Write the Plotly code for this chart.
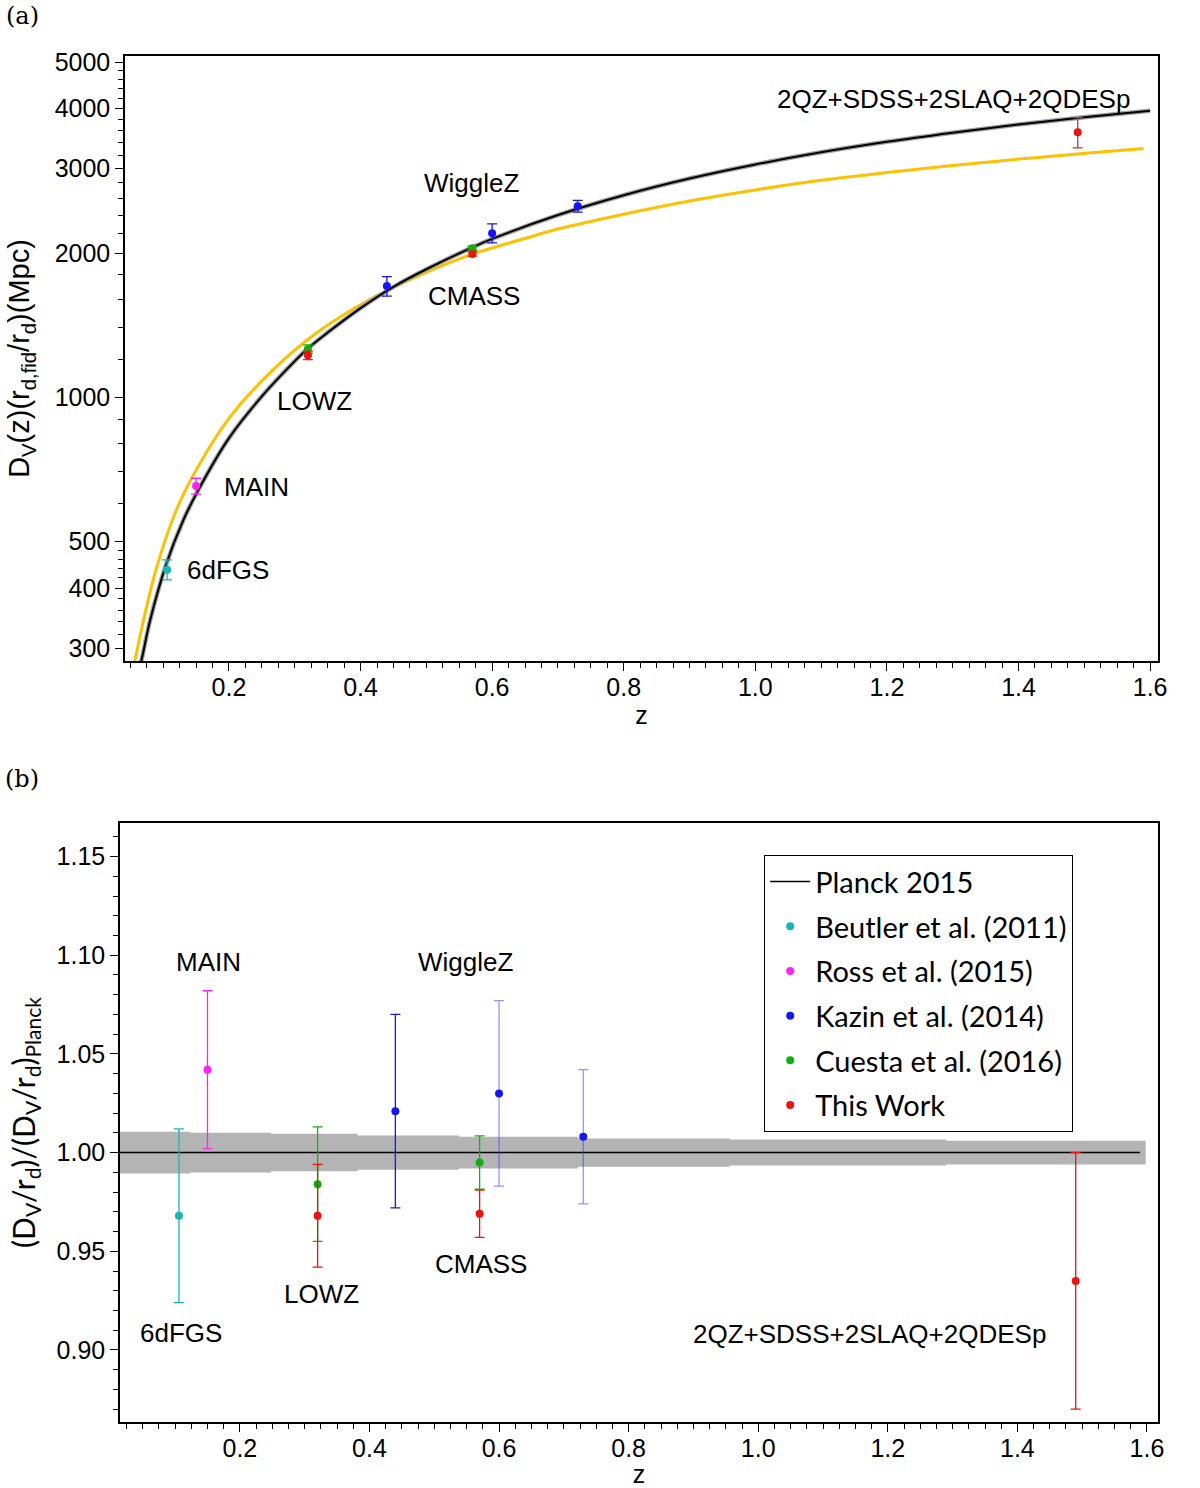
import plotly.graph_objects as go

# ---- panel (a): D_V(z) measurements ----
beutler_z = [0.106]
beutler_dv = [437]
beutler_dv_err = [21]

ross_z = [0.15]
ross_dv = [653]
ross_dv_err = [25]

kazin_z = [0.44, 0.60, 0.73]
kazin_dv = [1706, 2200, 2505]
kazin_dv_err = [80, 100, 70]

cuesta_z = [0.32, 0.57]
cuesta_dv = [1261, 2047]
cuesta_dv_err = [25, 20]

thiswork_z = [0.32, 0.57, 1.49]
thiswork_dv = [1224, 1991, 3573]
thiswork_dv_err = [25, 20, 260]

# model curves
planck_z = [0.06, 0.067, 0.08, 0.105, 0.13, 0.15, 0.2, 0.25, 0.3, 0.32, 0.35, 0.4, 0.45, 0.5,
            0.57, 0.6, 0.7, 0.8, 0.9, 1.0, 1.1, 1.2, 1.3, 1.4, 1.5, 1.6]
planck_dv = [262, 283, 342, 450, 552, 628, 822, 1005, 1190, 1265, 1365, 1535, 1700, 1850,
             2055, 2140, 2400, 2640, 2860, 3060, 3245, 3413, 3565, 3709, 3840, 3962]

alt_z = [0.05, 0.057, 0.07, 0.09, 0.12, 0.146, 0.2, 0.267, 0.333, 0.414, 0.5, 0.57, 0.643, 0.7,
         0.8, 0.9, 1.0, 1.1, 1.25, 1.4, 1.59]
alt_dv = [252, 282, 342, 441, 582, 689, 904, 1141, 1362, 1600, 1822, 1989, 2131, 2244,
          2410, 2568, 2708, 2836, 2995, 3140, 3305]

# ---- panel (b): ratio to Planck ----
beutler_ratio = [0.968]
beutler_ratio_err = [0.044]
ross_ratio = [1.042]
ross_ratio_err = [0.040]
kazin_ratio = [1.021, 1.030, 1.008]
kazin_ratio_err = [0.049, 0.047, 0.034]
cuesta_ratio = [0.984, 0.995]
cuesta_ratio_err = [0.029, 0.0135]
thiswork_ratio = [0.968, 0.969, 0.935]
thiswork_ratio_err = [0.026, 0.012, 0.065]

band_z = [0.015, 0.123, 0.248, 0.382, 0.538, 0.722, 0.956, 1.290, 1.598]
band_halfwidth = [0.0106, 0.0101, 0.0095, 0.0087, 0.0080, 0.0072, 0.0066, 0.0060, 0.0060]
planck_line_z = [0.015, 1.589]
planck_line_ratio = [1.0, 1.0]

CYAN = "#1ab5b5"
MAGENTA = "#ff22ff"
BLUE = "#1515f5"
GREEN = "#10b010"
RED = "#ee1111"

TICKFONT = dict(family="Liberation Sans", size=25, color="black")
LABELFONT = dict(family="Liberation Sans", size=26, color="black")
LEGFONT = dict(family="Lato", size=29, color="black")

fig = go.Figure()


def add_points(x, y, err, color, name, xa, ya, legend, err_color=None, group=None):
    fig.add_trace(go.Scatter(
        x=x, y=y, mode="markers", name=name, xaxis=xa, yaxis=ya,
        marker=dict(color=color, size=8),
        error_y=dict(type="data", array=err, visible=True, color=err_color or color,
                     thickness=1.3, width=5),
        showlegend=legend, legendgroup=group or name))


# panel (a)
fig.add_trace(go.Scatter(x=alt_z, y=alt_dv, mode="lines", line=dict(color="#ffc000", width=3, shape="spline"),
                         showlegend=False, xaxis="x", yaxis="y"))
fig.add_trace(go.Scatter(x=planck_z, y=planck_dv, mode="lines", line=dict(color="#a0a0a0", width=4.5, shape="spline"),
                         showlegend=False, xaxis="x", yaxis="y"))
fig.add_trace(go.Scatter(x=planck_z, y=planck_dv, mode="lines", line=dict(color="black", width=2, shape="spline"),
                         showlegend=False, xaxis="x", yaxis="y"))
add_points(beutler_z, beutler_dv, beutler_dv_err, CYAN, "a1", "x", "y", False)
add_points(ross_z, ross_dv, ross_dv_err, MAGENTA, "a2", "x", "y", False)
add_points(kazin_z, kazin_dv, kazin_dv_err, BLUE, "a3", "x", "y", False)
add_points(cuesta_z, cuesta_dv, cuesta_dv_err, GREEN, "a4", "x", "y", False)
add_points(thiswork_z, thiswork_dv, thiswork_dv_err, RED, "a5", "x", "y", False, err_color="#c0392b")

# panel (b) band
band_hi = [1 + h for h in band_halfwidth]
band_lo = [1 - h for h in band_halfwidth]
fig.add_trace(go.Scatter(x=band_z, y=band_lo, mode="lines", line=dict(width=0, shape="hv"),
                         showlegend=False, xaxis="x2", yaxis="y2", hoverinfo="skip"))
fig.add_trace(go.Scatter(x=band_z, y=band_hi, mode="lines", line=dict(width=0, shape="hv"),
                         fill="tonexty", fillcolor="#b4b4b4",
                         showlegend=False, xaxis="x2", yaxis="y2", hoverinfo="skip"))
fig.add_trace(go.Scatter(x=planck_line_z, y=planck_line_ratio, mode="lines", name="Planck 2015",
                         line=dict(color="black", width=1.5), xaxis="x2", yaxis="y2", legendgroup="g0"))
add_points(beutler_z, beutler_ratio, beutler_ratio_err, CYAN, "Beutler et al. (2011)", "x2", "y2", True)
add_points(ross_z, ross_ratio, ross_ratio_err, MAGENTA, "Ross et al. (2015)", "x2", "y2", True)
add_points(kazin_z[:1], kazin_ratio[:1], kazin_ratio_err[:1], BLUE, "Kazin et al. (2014)", "x2", "y2", True)
add_points(kazin_z[1:], kazin_ratio[1:], kazin_ratio_err[1:], BLUE, "Kazin b", "x2", "y2", False,
           err_color="rgba(60,60,255,0.55)", group="Kazin et al. (2014)")
add_points(cuesta_z, cuesta_ratio, cuesta_ratio_err, GREEN, "Cuesta et al. (2016)", "x2", "y2", True)
add_points(thiswork_z, thiswork_ratio, thiswork_ratio_err, RED, "This Work", "x2", "y2", True)

axis_common = dict(showline=True, linecolor="black", linewidth=1.5, mirror=True, ticks="outside",
                   ticklen=8, tickwidth=1.3, tickcolor="black", showgrid=False, zeroline=False,
                   tickfont=TICKFONT, automargin=False)

fig.update_layout(
    width=1200, height=1488, margin=dict(l=0, r=0, t=0, b=0),
    paper_bgcolor="white", plot_bgcolor="white",
    xaxis=dict(domain=[125 / 1200, 1158 / 1200], range=[0.042, 1.612], anchor="y",
               tickvals=[0.2, 0.4, 0.6, 0.8, 1.0, 1.2, 1.4, 1.6],
               ticktext=["0.2", "0.4", "0.6", "0.8", "1.0", "1.2", "1.4", "1.6"],
               ticklabelstandoff=-5,
               minor=dict(dtick=0.025, tick0=0, ticklen=5, ticks="outside", tickcolor="black", showgrid=False),
               title=dict(text="z", font=dict(family="Liberation Sans", size=25, color="black"), standoff=2),
               **axis_common),
    yaxis=dict(domain=[1 - 661 / 1488, 1 - 56 / 1488], type="log", range=[2.450, 3.712], anchor="x",
               tickvals=[300, 400, 500, 1000, 2000, 3000, 4000, 5000],
               ticktext=["300", "400", "500", "1000", "2000", "3000", "4000", "5000"],
               minor=dict(tickvals=[280, 320, 340, 360, 380, 420, 440, 460, 480, 600, 700, 800, 900,
                                    1200, 1400, 1600, 1800, 2200, 2400, 2600, 2800, 3200, 3400, 3600, 3800,
                                    4200, 4400, 4600, 4800],
                          ticklen=5, ticks="outside", tickcolor="black", showgrid=False),
               title=dict(text="D<sub>V</sub>(z)(r<sub>d,fid</sub>/r<sub>d</sub>)(Mpc)",
                          font=dict(family="Liberation Sans", size=29, color="black"), standoff=16),
               **axis_common),
    xaxis2=dict(domain=[120 / 1200, 1158 / 1200], range=[0.015, 1.617], anchor="y2",
                tickvals=[0.2, 0.4, 0.6, 0.8, 1.0, 1.2, 1.4, 1.6],
                ticktext=["0.2", "0.4", "0.6", "0.8", "1.0", "1.2", "1.4", "1.6"],
                ticklabelstandoff=-5,
                minor=dict(dtick=0.025, tick0=0, ticklen=5, ticks="outside", tickcolor="black", showgrid=False),
                title=dict(text="z", font=dict(family="Liberation Sans", size=25, color="black"), standoff=9),
                **axis_common),
    yaxis2=dict(domain=[1 - 1422 / 1488, 1 - 823 / 1488], range=[0.8635, 1.167], anchor="x2",
                tickvals=[0.90, 0.95, 1.00, 1.05, 1.10, 1.15],
                ticktext=["0.90", "0.95", "1.00", "1.05", "1.10", "1.15"],
                minor=dict(dtick=0.01, tick0=0, ticklen=5, ticks="outside", tickcolor="black", showgrid=False),
                title=dict(text="(D<sub>V</sub>/r<sub>d</sub>)/(D<sub>V</sub>/r<sub>d</sub>)<sub>Planck</sub>",
                           font=dict(family="Lato", size=30, color="black"), standoff=12),
                **axis_common),
    legend=dict(x=764 / 1200, y=1 - 855 / 1488, xanchor="left", yanchor="top",
                bordercolor="black", borderwidth=1.2, bgcolor="white", font=LEGFONT,
                traceorder="grouped", tracegroupgap=4, itemwidth=40),
)

# text labels (paper coordinates from figure layout)
labels = [
    ("(a)", 22, 16, dict(family="DejaVu Serif", size=24, color="black")),
    ("(b)", 22, 779, dict(family="DejaVu Serif", size=24, color="black")),
    ("2QZ+SDSS+2SLAQ+2QDESp", 953, 99, LABELFONT),
    ("WiggleZ", 471, 183, LABELFONT),
    ("CMASS", 474, 296, LABELFONT),
    ("LOWZ", 314, 401, LABELFONT),
    ("MAIN", 256, 487, LABELFONT),
    ("6dFGS", 228, 570, LABELFONT),
    ("MAIN", 208, 962, LABELFONT),
    ("WiggleZ", 466, 962, LABELFONT),
    ("6dFGS", 181, 1333, LABELFONT),
    ("LOWZ", 321, 1294, LABELFONT),
    ("CMASS", 481, 1264, LABELFONT),
    ("2QZ+SDSS+2SLAQ+2QDESp", 869, 1334, LABELFONT),
]
for text, px, py, font in labels:
    fig.add_annotation(text=text, x=px / 1200, y=1 - py / 1488, xref="paper", yref="paper",
                       xanchor="center", yanchor="middle", showarrow=False, font=font)

fig.write_html("out.html", config={"displayModeBar": False},
               post_script="document.body.style.margin = '0';")
